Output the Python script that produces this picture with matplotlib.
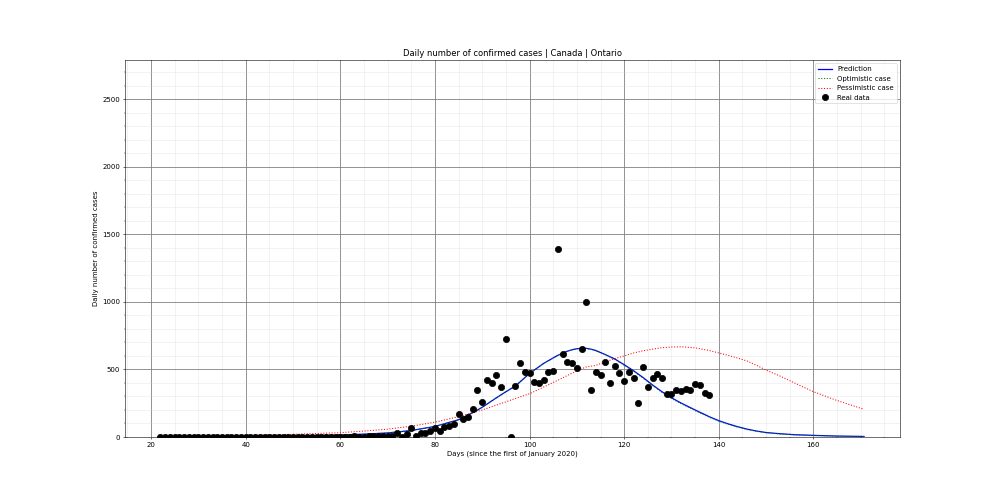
import numpy as np
import matplotlib
matplotlib.use("Agg")
import matplotlib.pyplot as plt

# observed daily cases, one value per day starting at day 22
real_days = np.arange(22, 139)
real_cases = [
    0, 0, 0, 3, 0, 0, 0, 0, 3, 0,          # 22-31
    0, 0, 0, 0, 0, 0, 0, 0, 0, 0,          # 32-41
    0, 0, 0, 0, 0, 0, 0, 0, 0, 0,          # 42-51
    0, 0, 0, 1, 0, 1, 2, 0, 1, 3,          # 52-61
    0, 4, 3, 2, 5, 8, 4, 10, 8, 6,         # 62-71
    28, 0, 20, 67, 7, 27, 27, 44, 64, 44,  # 72-81
    72, 81, 96, 168, 136, 150, 205, 348, 259, 421,  # 82-91
    397, 459, 372, 725, 0, 377, 547, 481, 473, 407,  # 92-101
    400, 421, 481, 488, 1390, 614, 555, 547, 510, 651,  # 102-111
    998, 348, 481, 459, 555, 400, 525, 473, 414, 481,  # 112-121
    436, 251, 518, 370, 436, 466, 436, 318, 318, 348,  # 122-131
    340, 355, 348, 392, 385, 325, 311,  # 132-138
]

# model curves
curve_days = [22, 30, 40, 50, 60, 65, 70, 75, 80, 85, 88, 90, 93, 95, 97, 100,
              103, 106, 108, 109, 110, 111, 112, 113, 114, 116, 118, 120, 122,
              124, 126, 128, 130, 132, 135, 138, 140, 142, 144, 146, 148, 150,
              153, 156, 160, 165, 170.7]
prediction = [1, 2, 4, 8, 15, 21, 30, 48, 78, 128, 180, 220, 290, 335, 377, 470,
              545, 605, 635, 646, 653, 657, 656, 650, 640, 610, 578, 535, 490,
              440, 385, 335, 290, 252, 200, 150, 121, 97, 76, 58, 44, 33,
              24, 17, 12, 7, 4]
optimistic = [1, 2, 4, 8, 15, 21, 30, 48, 78, 128, 180, 220, 290, 335, 377, 470,
              545, 604, 634, 645, 652, 656, 655, 648, 638, 608, 575, 531, 486,
              435, 380, 330, 285, 247, 195, 146, 117, 93, 73, 55, 42, 31,
              22, 16, 11, 6, 3]
pessimistic = [4, 7, 12, 20, 32, 44, 58, 80, 110, 150, 180, 200, 236, 260, 285, 320,
               370, 420, 455, 472, 490, 505, 518, 524, 530, 556, 580, 600, 622,
               638, 650, 661, 666, 668, 660, 640, 622, 604, 584, 562, 530, 495,
               450, 400, 335, 270, 205]

fig, ax = plt.subplots(figsize=(20, 10), dpi=50)
fig.subplots_adjust(left=0.125, right=0.9, bottom=0.126, top=0.88)

ax.plot(curve_days, prediction, color="blue", linewidth=1.8, label="Prediction")
ax.plot(curve_days, optimistic, color="green", linestyle=":", linewidth=1.5, label="Optimistic case")
ax.plot(curve_days, pessimistic, color="red", linestyle=":", linewidth=1.5, label="Pessimistic case")
ax.plot(real_days, real_cases, "o", color="black", markersize=9, label="Real data")

ax.set_xlim(14.5, 178.3)
ax.set_ylim(0, 2790)
ax.minorticks_on()
ax.grid(which="major", color="grey", linewidth=1.2)
ax.grid(which="minor", color="lightgrey", alpha=0.5, linewidth=0.8)

ax.set_title("Daily number of confirmed cases | Canada | Ontario")
ax.set_xlabel("Days (since the first of January 2020)")
ax.set_ylabel("Daily number of confirmed cases")
ax.legend(loc="upper right")

fig.savefig("out.png", dpi=50)
